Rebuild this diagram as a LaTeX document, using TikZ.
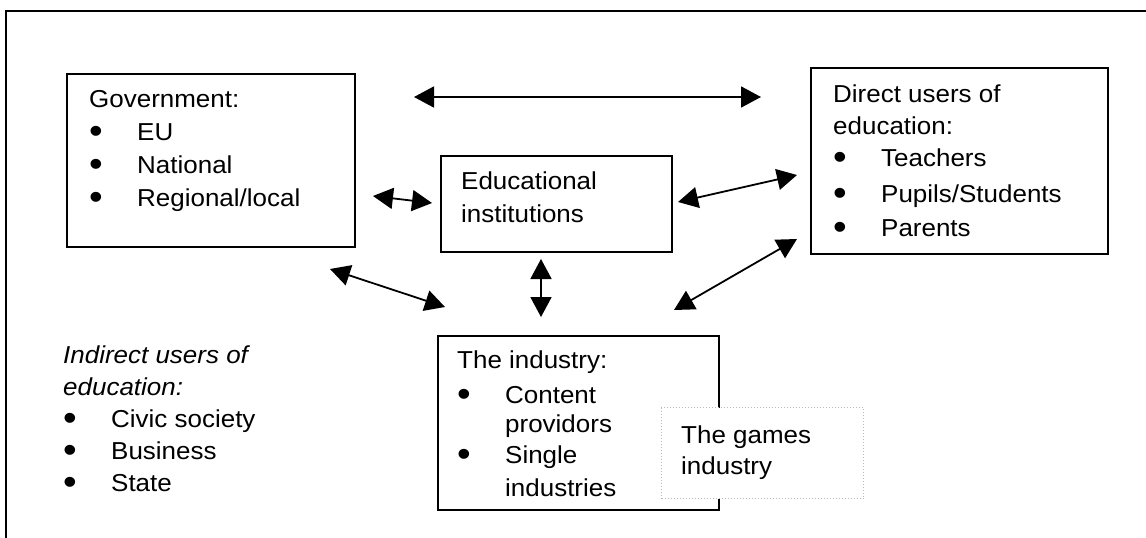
\documentclass[tikz,border=0pt]{standalone}
\usepackage{fontspec}
\usepackage{graphicx}
\setmainfont{Liberation Sans}[FakeStretch=1.06]
\usetikzlibrary{arrows.meta}
% bullet item with a hanging text column, and a continuation line
\newcommand{\bigbullet}{\smash{\raisebox{-3pt}{\scalebox{1.5}{\textbullet}}}}
\newcommand{\bitem}[1]{\makebox[48pt][l]{\bigbullet}#1}
\newcommand{\cont}[1]{\hspace*{48pt}#1}
\begin{document}
\begin{tikzpicture}[x=1pt,y=-1pt,
  box/.style={draw, line width=2pt, inner sep=0pt, anchor=north west},
  gamesbox/.style={draw=gray!55, line width=1pt, dash pattern=on 1pt off 2pt,
                   fill=white, inner sep=0pt, anchor=north west},
  txt/.style={inner sep=0pt, anchor=base west,
              font=\fontsize{24.5pt}{32pt}\selectfont},
  link/.style={line width=1.8pt,
               {Triangle[length=20pt,width=21pt]}-{Triangle[length=20pt,width=21pt]}},
  frameline/.style={line width=2pt}]
\useasboundingbox (0,0) rectangle (1146,538);

% outer frame (top and left edges)
\draw[frameline] (6,538) -- (6,11) -- (1146,11);

% boxes
\node[box, minimum width=288pt, minimum height=173pt] (gov) at (66,73) {};
\node[box, minimum width=231pt, minimum height=96pt]  (edu) at (440,155) {};
\node[box, minimum width=297pt, minimum height=186pt] (direct) at (810,67) {};
\node[box, minimum width=281pt, minimum height=174pt] (ind) at (437,335) {};
\node[gamesbox, minimum width=202pt, minimum height=91pt] (games) at (661,407) {};

% texts
\node[txt] (govtext) at (89,107) {\parbox[t]{260pt}{Government:\\[1pt]
  \bitem{EU}\\[1pt]\bitem{National}\\[1pt]\bitem{Regional/local}}};
\node[txt] (edutext) at (461,189) {\parbox[t]{200pt}{Educational\\[1pt]institutions}};
\node[txt] (directtext) at (833,102) {\parbox[t]{270pt}{Direct users of\\
  education:\\\bitem{Teachers}\\[4pt]\bitem{Pupils/Students}\\[2pt]\bitem{Parents}}};
\node[txt] (indirecttext) at (63,363) {\parbox[t]{300pt}{\itshape Indirect users of\\
  education:\upshape\\\bitem{Civic society}\\\bitem{Business}\\\bitem{State}}};
\node[txt] (indtext) at (457,368) {\parbox[t]{250pt}{The industry:\\[3pt]
  \bitem{Content}\\[-3pt]\cont{providors}\\[-1pt]\bitem{Single}\\[1pt]\cont{industries}}};
\node[txt] (gamestext) at (681,443) {\parbox[t]{180pt}{The games\\[-1pt]industry}};

% connector end points
\coordinate (top1) at (414,97);  \coordinate (top2) at (761,97);
\coordinate (ge1) at (373,196);  \coordinate (ge2) at (432,203);
\coordinate (ed1) at (678,202);  \coordinate (ed2) at (797,175);
\coordinate (id1) at (674,310);  \coordinate (id2) at (797,239);
\coordinate (ei1) at (541,259);  \coordinate (ei2) at (541,317);
\coordinate (gi1) at (330,269);  \coordinate (gi2) at (445,307);

% two-way relations
\draw[link] (top1) -- (top2);
\draw[link] (ge1) -- (ge2);
\draw[link] (ed1) -- (ed2);
\draw[link] (id1) -- (id2);
\draw[link] (ei1) -- (ei2);
\draw[link] (gi1) -- (gi2);
\end{tikzpicture}
\end{document}
